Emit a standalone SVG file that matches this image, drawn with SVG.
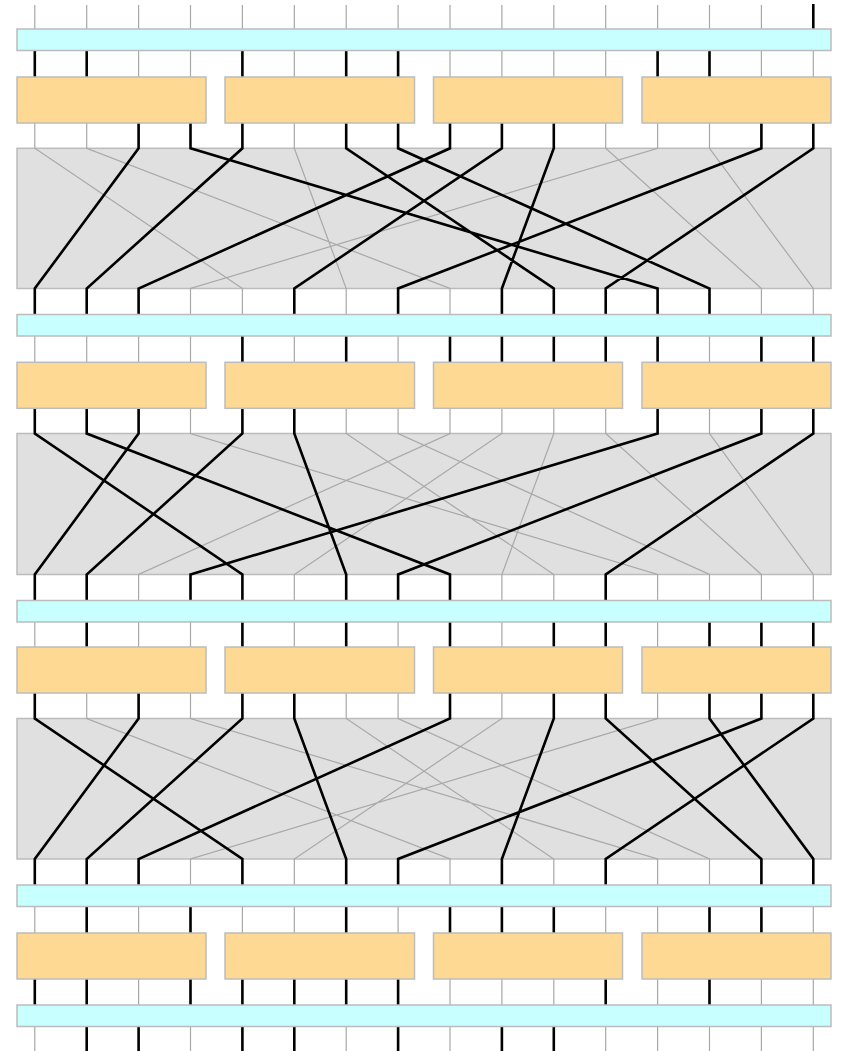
<svg xmlns="http://www.w3.org/2000/svg" width="841" height="1051" viewBox="0 0 841 1051">
<style>
.bg{fill:#ffffff}
.cyan{fill:#c8ffff;stroke:#bcbcbc;stroke-width:1.5}
.orange{fill:#fdd994;stroke:#bcbcbc;stroke-width:1.5}
.grey{fill:#e0e0e0;stroke:#bcbcbc;stroke-width:1.5}
.thin{fill:none;stroke:#a8a8a8;stroke-width:1.2}
.thick{fill:none;stroke:#000000;stroke-width:2.6;stroke-linejoin:miter}
</style>
<rect class="bg" x="0" y="0" width="841" height="1051"/>
<g id="shuffles">
<rect id="shuffle1" class="grey" x="17" y="148.3" width="814" height="140.2"/>
<rect id="shuffle2" class="grey" x="17" y="433.5" width="814" height="141"/>
<rect id="shuffle3" class="grey" x="17" y="718.5" width="814" height="140.5"/>
</g>
<g id="connectors">
<path class="thin" d="M34.8 5V29M86.7 5V29M138.6 5V29M190.5 5V29M242.4 5V29M294.3 5V29M346.2 5V29M398.1 5V29M450 5V29M501.9 5V29M553.8 5V29M605.7 5V29M657.6 5V29M709.5 5V29M761.4 5V29"/>
<path class="thin" d="M138.6 50.5V77M190.5 50.5V77M294.3 50.5V77M450 50.5V77M501.9 50.5V77M553.8 50.5V77M605.7 50.5V77M761.4 50.5V77M813.3 50.5V77"/>
<path class="thin" d="M34.8 123V148.3L242.4 288.5V314.5M86.7 123V148.3L450 288.5V314.5M294.3 123V148.3L346.2 288.5V314.5M605.7 123V148.3L761.4 288.5V314.5M657.6 123V148.3L190.5 288.5V314.5M709.5 123V148.3L813.3 288.5V314.5"/>
<path class="thin" d="M34.8 336V362.3M86.7 336V362.3M138.6 336V362.3M190.5 336V362.3M294.3 336V362.3M398.1 336V362.3M709.5 336V362.3"/>
<path class="thin" d="M190.5 408.3V433.5L657.6 574.5V600.5M346.2 408.3V433.5L553.8 574.5V600.5M398.1 408.3V433.5L709.5 574.5V600.5M450 408.3V433.5L138.6 574.5V600.5M501.9 408.3V433.5L294.3 574.5V600.5M553.8 408.3V433.5L501.9 574.5V600.5M605.7 408.3V433.5L761.4 574.5V600.5M709.5 408.3V433.5L813.3 574.5V600.5"/>
<path class="thin" d="M34.8 622V647M138.6 622V647M190.5 622V647M294.3 622V647M398.1 622V647M501.9 622V647M657.6 622V647"/>
<path class="thin" d="M86.7 693V718.5L450 859V885M190.5 693V718.5L657.6 859V885M346.2 693V718.5L553.8 859V885M398.1 693V718.5L709.5 859V885M501.9 693V718.5L294.3 859V885M657.6 693V718.5L190.5 859V885"/>
<path class="thin" d="M34.8 906.5V933M138.6 906.5V933M242.4 906.5V933M294.3 906.5V933M398.1 906.5V933M605.7 906.5V933M657.6 906.5V933M813.3 906.5V933"/>
<path class="thin" d="M138.6 979V1005M450 979V1005M501.9 979V1005M553.8 979V1005M657.6 979V1005M761.4 979V1005M813.3 979V1005"/>
<path class="thin" d="M34.8 1026.5V1051M190.5 1026.5V1051M346.2 1026.5V1051M450 1026.5V1051M605.7 1026.5V1051M657.6 1026.5V1051M709.5 1026.5V1051M761.4 1026.5V1051M813.3 1026.5V1051"/>
<path class="thick" d="M813.3 4V29"/>
<path class="thick" d="M34.8 50.5V77M86.7 50.5V77M242.4 50.5V77M346.2 50.5V77M398.1 50.5V77M657.6 50.5V77M709.5 50.5V77"/>
<path class="thick" d="M138.6 123V148.3L34.8 288.5V314.5M190.5 123V148.3L657.6 288.5V314.5M242.4 123V148.3L86.7 288.5V314.5M346.2 123V148.3L553.8 288.5V314.5M398.1 123V148.3L709.5 288.5V314.5M450 123V148.3L138.6 288.5V314.5M501.9 123V148.3L294.3 288.5V314.5M553.8 123V148.3L501.9 288.5V314.5M761.4 123V148.3L398.1 288.5V314.5M813.3 123V148.3L605.7 288.5V314.5"/>
<path class="thick" d="M242.4 336V362.3M346.2 336V362.3M450 336V362.3M501.9 336V362.3M553.8 336V362.3M605.7 336V362.3M657.6 336V362.3M761.4 336V362.3M813.3 336V362.3"/>
<path class="thick" d="M34.8 408.3V433.5L242.4 574.5V600.5M86.7 408.3V433.5L450 574.5V600.5M138.6 408.3V433.5L34.8 574.5V600.5M242.4 408.3V433.5L86.7 574.5V600.5M294.3 408.3V433.5L346.2 574.5V600.5M657.6 408.3V433.5L190.5 574.5V600.5M761.4 408.3V433.5L398.1 574.5V600.5M813.3 408.3V433.5L605.7 574.5V600.5"/>
<path class="thick" d="M86.7 622V647M242.4 622V647M346.2 622V647M450 622V647M553.8 622V647M605.7 622V647M709.5 622V647M761.4 622V647M813.3 622V647"/>
<path class="thick" d="M34.8 693V718.5L242.4 859V885M138.6 693V718.5L34.8 859V885M242.4 693V718.5L86.7 859V885M294.3 693V718.5L346.2 859V885M450 693V718.5L138.6 859V885M553.8 693V718.5L501.9 859V885M605.7 693V718.5L761.4 859V885M709.5 693V718.5L813.3 859V885M761.4 693V718.5L398.1 859V885M813.3 693V718.5L605.7 859V885"/>
<path class="thick" d="M86.7 906.5V933M190.5 906.5V933M346.2 906.5V933M450 906.5V933M501.9 906.5V933M553.8 906.5V933M709.5 906.5V933M761.4 906.5V933"/>
<path class="thick" d="M34.8 979V1005M86.7 979V1005M190.5 979V1005M242.4 979V1005M294.3 979V1005M346.2 979V1005M398.1 979V1005M605.7 979V1005M709.5 979V1005"/>
<path class="thick" d="M86.7 1026.5V1051M138.6 1026.5V1051M242.4 1026.5V1051M294.3 1026.5V1051M398.1 1026.5V1051M501.9 1026.5V1051M553.8 1026.5V1051"/>
</g>
<g id="bus1"><rect class="cyan" x="17" y="29" width="814" height="21.5"/></g>
<g id="bus2"><rect class="cyan" x="17" y="314.5" width="814" height="21.5"/></g>
<g id="bus3"><rect class="cyan" x="17" y="600.5" width="814" height="21.5"/></g>
<g id="bus4"><rect class="cyan" x="17" y="885" width="814" height="21.5"/></g>
<g id="bus5"><rect class="cyan" x="17" y="1005" width="814" height="21.5"/></g>
<g id="stage1">
<rect id="s1b1" class="orange" x="17" y="77" width="189" height="46"/>
<rect id="s1b2" class="orange" x="225" y="77" width="189.5" height="46"/>
<rect id="s1b3" class="orange" x="433.5" y="77" width="189" height="46"/>
<rect id="s1b4" class="orange" x="642" y="77" width="189" height="46"/>
</g>
<g id="stage2">
<rect id="s2b1" class="orange" x="17" y="362.3" width="189" height="46"/>
<rect id="s2b2" class="orange" x="225" y="362.3" width="189.5" height="46"/>
<rect id="s2b3" class="orange" x="433.5" y="362.3" width="189" height="46"/>
<rect id="s2b4" class="orange" x="642" y="362.3" width="189" height="46"/>
</g>
<g id="stage3">
<rect id="s3b1" class="orange" x="17" y="647" width="189" height="46"/>
<rect id="s3b2" class="orange" x="225" y="647" width="189.5" height="46"/>
<rect id="s3b3" class="orange" x="433.5" y="647" width="189" height="46"/>
<rect id="s3b4" class="orange" x="642" y="647" width="189" height="46"/>
</g>
<g id="stage4">
<rect id="s4b1" class="orange" x="17" y="933" width="189" height="46"/>
<rect id="s4b2" class="orange" x="225" y="933" width="189.5" height="46"/>
<rect id="s4b3" class="orange" x="433.5" y="933" width="189" height="46"/>
<rect id="s4b4" class="orange" x="642" y="933" width="189" height="46"/>
</g>
</svg>
